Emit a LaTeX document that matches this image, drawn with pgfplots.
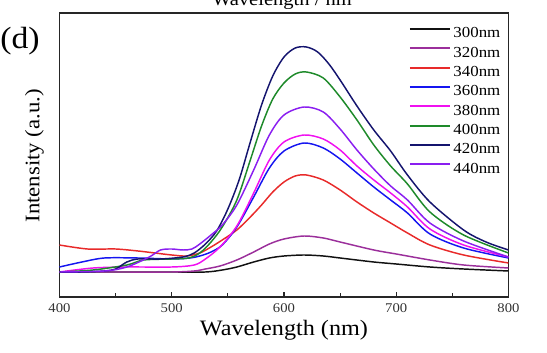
\documentclass[border=0pt]{standalone}
\usepackage{pgfplots}
\pgfplotsset{compat=1.18}
\usepackage{fontspec}
\setmainfont{Liberation Serif}[FakeStretch=1.1]
\definecolor{cBlack}{HTML}{111111}
\definecolor{cPurple}{HTML}{9B2F9B}
\definecolor{cRed}{HTML}{E82A2A}
\definecolor{cBlue}{HTML}{1515F0}
\definecolor{cMag}{HTML}{F010F0}
\definecolor{cGreen}{HTML}{1E8A2A}
\definecolor{cNavy}{HTML}{14146E}
\definecolor{cViolet}{HTML}{8A1EF0}
\begin{document}
\begin{tikzpicture}[x=0.75pt,y=0.75pt]
\useasboundingbox (0,0) rectangle (547,353);
\begin{scope}
\clip (0,0) rectangle (547,353);
\node[font=\fontsize{14}{16}\selectfont, anchor=base] at (282,347.5) {Wavelength / nm};
\end{scope}
\node[font=\fontsize{23}{26}\selectfont, anchor=center] at (20,312) {(d)};
\begin{axis}[
  at={(53,56)}, anchor=south west,
  width=336.75pt, height=213pt, scale only axis,
  xmin=400, xmax=800, ymin=0, ymax=284,
  xtick={400,500,600,700,800},
  minor xtick={450,550,650,750},
  ytick=\empty,
  tick align=inside,
  major tick length=4pt, minor tick length=3pt,
  xtick pos=bottom,
  axis line style={color=black!85, line width=0.9pt},
  tick style={color=black!85, line width=0.8pt},
  /pgf/number format/assume math mode=true,
  /pgf/number format/1000 sep={},
  ticklabel style={font=\fontsize{10}{11}\selectfont, color=black!80},
  xticklabel style={yshift=-1.5pt},
  xlabel={Wavelength (nm)},
  every axis x label/.style={at={(rel axis cs:0.5,-0.118)}, anchor=center, font=\fontsize{16.5}{18}\selectfont},
  ylabel={Intensity (a.u.)},
  every axis y label/.style={at={(rel axis cs:-0.056,0.497)}, rotate=90, anchor=center, font=\fontsize{15.5}{17}\selectfont},
  legend style={draw=none, fill=none, inner sep=0pt, at={(rel axis cs:0.988,0.956)}, anchor=north east,
    font=\fontsize{11.5}{12}\selectfont, row sep=3pt,
    nodes={text height=9pt, text depth=2.5pt, inner ysep=0pt, inner xsep=1.9pt}},
  legend cell align=left,
  legend image code/.code={\draw[#1, line width=1.5pt] (0pt,3.3pt) -- (30pt,3.3pt);},
  every axis plot/.append style={line width=1.1pt, smooth},
]
\addplot[cBlack] coordinates {(400,25)(450,25)(500,25)(530,25)(545,27)(558,30)(573,35)(587,39)(600,41)(618,42)(635,41)(650,39)(680,35)(700,33)(730,30)(760,28)(800,26)};
\addlegendentry{300nm}
\addplot[cPurple] coordinates {(400,25)(450,25)(500,25)(520,26)(530,28)(543,31)(558,37)(573,45)(587,53)(600,58)(618,61)(635,59)(650,55)(680,47)(700,43)(730,37)(760,32)(800,29)};
\addlegendentry{320nm}
\addplot[cRed] coordinates {(400,52)(425,48)(450,48)(470,46)(485,44)(500,42)(513,41)(525,44)(535,50)(545,57)(558,67)(570,80)(580,92)(590,105)(600,115)(610,121)(620,122)(635,117)(650,107)(665,95)(680,84)(695,74)(710,64)(730,52)(760,42)(800,34)};
\addlegendentry{340nm}
\addplot[cBlue] coordinates {(400,30)(420,35)(440,39)(470,39)(500,38)(516,39)(525,41)(535,45)(545,52)(558,70)(573,100)(587,129)(600,146)(618,154)(635,149)(650,138)(665,124)(680,110)(695,97)(710,84)(730,63)(760,49)(800,39)};
\addlegendentry{360nm}
\addplot[cMag] coordinates {(400,25)(430,29)(460,30)(500,30)(520,32)(530,38)(543,50)(558,71)(573,104)(587,137)(600,155)(618,162)(635,158)(650,147)(665,131)(680,117)(695,104)(710,90)(730,68)(760,52)(800,40)};
\addlegendentry{380nm}
\addplot[cGreen] coordinates {(400,25)(430,27)(460,32)(475,37)(500,38)(515,39)(525,44)(535,55)(545,70)(558,97)(570,137)(580,171)(590,198)(600,214)(610,223)(620,225)(635,219)(650,200)(665,177)(680,152)(695,131)(710,113)(730,85)(760,62)(800,44)};
\addlegendentry{400nm}
\addplot[cNavy] coordinates {(400,25)(420,25)(440,26)(450,28)(460,35)(470,38)(490,38)(510,40)(520,44)(530,53)(540,66)(550,88)(560,117)(570,155)(580,192)(590,221)(600,240)(610,249)(620,250)(630,245)(640,233)(650,217)(665,191)(680,167)(695,146)(710,122)(730,95)(760,67)(780,55)(800,47)};
\addlegendentry{420nm}
\addplot[cViolet] coordinates {(400,25)(440,26)(460,30)(480,40)(490,47)(500,48)(510,47)(518,48)(525,53)(535,62)(545,72)(558,92)(573,127)(587,162)(600,182)(618,190)(635,185)(650,168)(665,147)(680,128)(695,111)(710,97)(730,74)(760,56)(800,40)};
\addlegendentry{440nm}
\end{axis}
\end{tikzpicture}
\end{document}
